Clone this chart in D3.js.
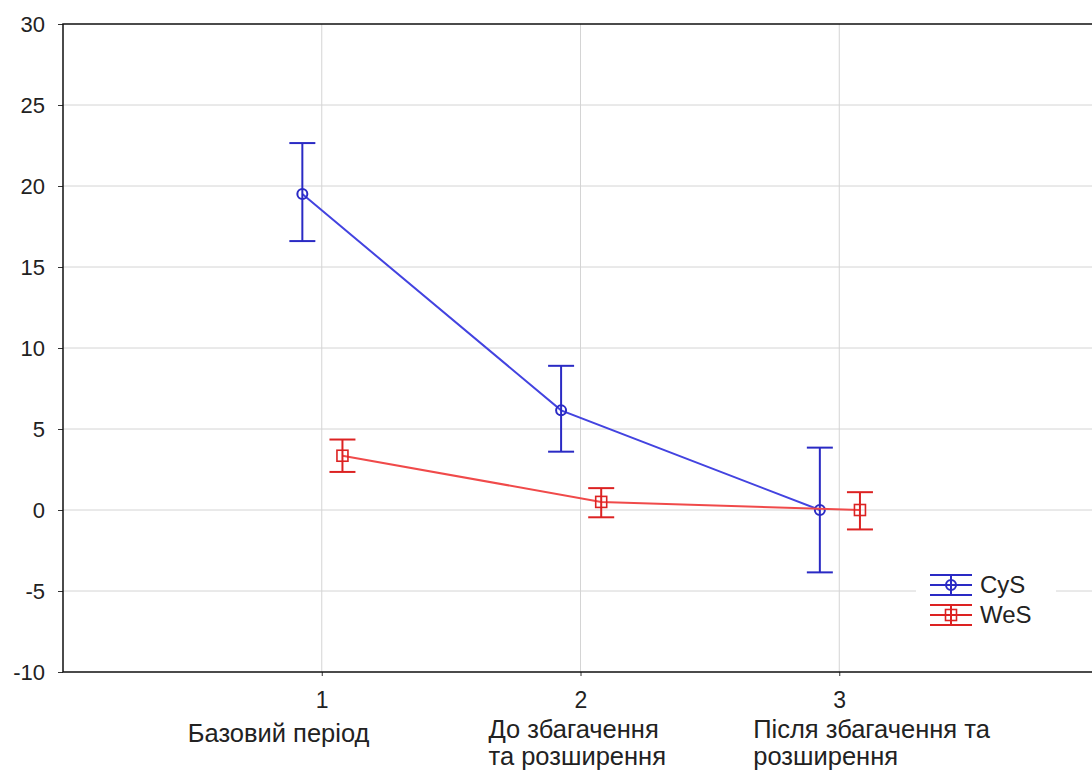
<!DOCTYPE html>
<html lang="uk">
<head>
<meta charset="UTF-8">
<title>CyS / WeS</title>
<script src="https://d3js.org/d3.v7.min.js"></script>
<style>
  body { margin: 0; background: #fff; }
  text { font-family: "Liberation Sans", Arial, sans-serif; fill: #222; }
</style>
</head>
<body>
<div id="chart"></div>
<script>
// dane
const categories = [1, 2, 3];
const categoryLabels = [["Базовий період"], ["До збагачення", "та розширення"], ["Після збагачення та", "розширення"]];
const seriesNames = ["CyS", "WeS"];
const cysMean = [19.5, 6.15, 0.0];
const cysUpper = [22.65, 8.9, 3.85];
const cysLower = [16.6, 3.6, -3.85];
const wesMean = [3.35, 0.5, 0.0];
const wesUpper = [4.35, 1.35, 1.1];
const wesLower = [2.35, -0.45, -1.2];
const yTicks = [-10, -5, 0, 5, 10, 15, 20, 25, 30];

const W = 1092, H = 776;
const plotLeft = 63, plotTop = 24, plotBottom = 672;

const svg = d3.select("#chart").append("svg")
    .attr("width", W).attr("height", H);

const x = d3.scaleLinear().domain([0, 4]).range([plotLeft, 1098]);
const y = d3.scaleLinear().domain([-10, 30]).range([plotBottom, plotTop]);

// siatka
svg.append("g").selectAll("line").data(yTicks.slice(1, -1)).enter().append("line")
    .attr("x1", plotLeft).attr("x2", W).attr("y1", d => y(d)).attr("y2", d => y(d))
    .attr("stroke", "#d4d4d4").attr("stroke-width", 1);
svg.append("g").selectAll("line").data(categories).enter().append("line")
    .attr("x1", d => x(d)).attr("x2", d => x(d)).attr("y1", plotTop).attr("y2", plotBottom)
    .attr("stroke", "#d4d4d4").attr("stroke-width", 1);

// osie
const yAxis = svg.append("g").attr("transform", `translate(${plotLeft},0)`)
    .call(d3.axisLeft(y).tickValues(yTicks).tickSize(5).tickPadding(13).tickFormat(d => String(d)));
yAxis.select(".domain").remove();
yAxis.selectAll("line").attr("stroke", "#333");
yAxis.selectAll("text").style("font-size", "22px").attr("fill", "#222");

const xAxis = svg.append("g").attr("transform", `translate(0,${plotBottom})`)
    .call(d3.axisBottom(x).tickValues(categories).tickSize(4).tickPadding(16).tickFormat(d3.format("d")));
xAxis.select(".domain").remove();
xAxis.selectAll("line").attr("stroke", "#333");
xAxis.selectAll("text").style("font-size", "23px").attr("fill", "#222");

// ramka
svg.append("path")
    .attr("d", `M${W + 5},${plotTop}H${plotLeft}V${plotBottom}H${W + 5}`)
    .attr("fill", "none").attr("stroke", "#111").attr("stroke-width", 1.5);

// etykiety kategorii
const labelShift = [-134, -92, -86];
categoryLabels.forEach((lines, i) => {
  const t = svg.append("text")
      .attr("x", x(categories[i]) + labelShift[i])
      .attr("y", lines.length > 1 ? 738 : 742)
      .style("font-size", "25.5px");
  lines.forEach((s, j) => {
    t.append("tspan").attr("x", x(categories[i]) + labelShift[i]).attr("dy", j ? 27 : 0).text(s);
  });
});

const series = [
  {name: seriesNames[0], mean: cysMean, up: cysUpper, lo: cysLower, color: "#2a2ac4", line: "#4343e0", dx: -0.075, shape: "circle"},
  {name: seriesNames[1], mean: wesMean, up: wesUpper, lo: wesLower, color: "#dc2222", line: "#f04a4a", dx: 0.08, shape: "square"}
];

const capW = 13;

function marker(g, cx, cy, s) {
  if (s.shape === "circle") {
    g.append("circle").attr("cx", cx).attr("cy", cy).attr("r", 5)
        .attr("fill", "none").attr("stroke", s.color).attr("stroke-width", 2);
  } else {
    g.append("rect").attr("x", cx - 5.5).attr("y", cy - 5.5).attr("width", 11).attr("height", 11)
        .attr("fill", "none").attr("stroke", s.color).attr("stroke-width", 1.6);
  }
}

series.forEach(s => {
  const g = svg.append("g");
  const pts = categories.map((c, i) => [x(c + s.dx), y(s.mean[i])]);
  g.append("path").attr("d", d3.line()(pts))
      .attr("fill", "none").attr("stroke", s.line).attr("stroke-width", 2);
  categories.forEach((c, i) => {
    const cx = x(c + s.dx);
    g.append("line").attr("x1", cx).attr("x2", cx).attr("y1", y(s.up[i])).attr("y2", y(s.lo[i]))
        .attr("stroke", s.color).attr("stroke-width", 2);
    [s.up[i], s.lo[i]].forEach(v => {
      g.append("line").attr("x1", cx - capW).attr("x2", cx + capW).attr("y1", y(v)).attr("y2", y(v))
          .attr("stroke", s.color).attr("stroke-width", 2);
    });
    marker(g, cx, y(s.mean[i]), s);
  });
});

// legenda
const leg = svg.append("g");
leg.append("rect").attr("x", 916).attr("y", 565).attr("width", 140).attr("height", 70).attr("fill", "#fff");
series.forEach((s, i) => {
  const cy = 585 + i * 30, cx = 951;
  [-10, 0, 10].forEach(o => {
    leg.append("line").attr("x1", 930).attr("x2", 972).attr("y1", cy + o).attr("y2", cy + o)
        .attr("stroke", s.color).attr("stroke-width", 2);
  });
  leg.append("line").attr("x1", cx).attr("x2", cx).attr("y1", cy - 10).attr("y2", cy + 10)
      .attr("stroke", s.color).attr("stroke-width", 2);
  marker(leg, cx, cy, s);
  leg.append("text").attr("x", 980).attr("y", cy + 8).style("font-size", "24px").text(s.name);
});
</script>
</body>
</html>
